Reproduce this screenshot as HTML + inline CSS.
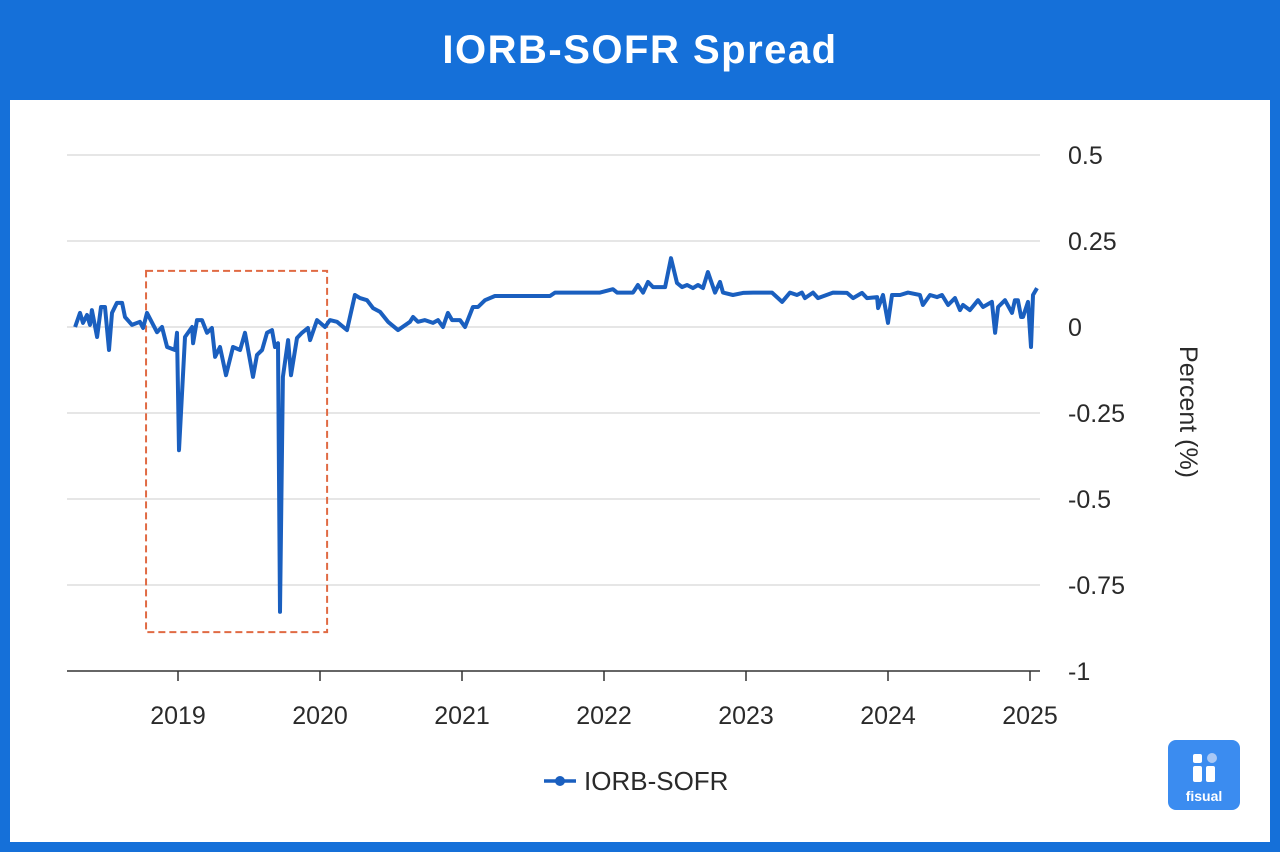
<!DOCTYPE html>
<html><head><meta charset="utf-8">
<style>
html,body{margin:0;padding:0;width:1280px;height:852px;overflow:hidden;background:#1570d9;font-family:"Liberation Sans",sans-serif}
#title{position:absolute;left:0;top:0;width:1280px;height:100px;line-height:100px;text-align:center;color:#fff;font-size:40px;font-weight:bold;letter-spacing:1.5px}
#panel{position:absolute;left:10px;top:100px;width:1260px;height:742px;background:#fff}
svg{position:absolute;left:0;top:0}
</style></head><body>
<div id="title">IORB-SOFR Spread</div>
<div id="panel"></div>
<svg id="chart" width="1280" height="852"></svg>
<script>
const yTicks=[0.5,0.25,0,-0.25,-0.5,-0.75,-1];
const yTickLabels=["0.5","0.25","0","-0.25","-0.5","-0.75","-1"];
const xTicks=[2019,2020,2021,2022,2023,2024,2025];
const xTickLabels=["2019","2020","2021","2022","2023","2024","2025"];
const dates=[2018.275,2018.31,2018.331,2018.359,2018.38,2018.394,2018.43,2018.458,2018.486,2018.514,2018.535,2018.57,2018.606,2018.627,2018.676,2018.732,2018.754,2018.782,2018.852,2018.887,2018.923,2018.979,2018.993,2019.007,2019.049,2019.099,2019.106,2019.134,2019.169,2019.204,2019.239,2019.261,2019.296,2019.338,2019.387,2019.437,2019.472,2019.528,2019.556,2019.592,2019.627,2019.662,2019.683,2019.704,2019.718,2019.739,2019.775,2019.796,2019.838,2019.873,2019.915,2019.93,2019.979,2020.035,2020.07,2020.12,2020.19,2020.246,2020.282,2020.331,2020.373,2020.423,2020.479,2020.549,2020.634,2020.655,2020.69,2020.739,2020.796,2020.831,2020.866,2020.901,2020.93,2020.986,2021.021,2021.077,2021.113,2021.162,2021.232,2021.62,2021.655,2021.972,2022.063,2022.092,2022.204,2022.239,2022.275,2022.31,2022.345,2022.394,2022.43,2022.472,2022.514,2022.549,2022.585,2022.627,2022.662,2022.697,2022.732,2022.782,2022.817,2022.838,2022.908,2022.979,2023.049,2023.183,2023.254,2023.31,2023.359,2023.394,2023.415,2023.472,2023.507,2023.613,2023.711,2023.754,2023.817,2023.852,2023.923,2023.93,2023.965,2024.0,2024.028,2024.085,2024.141,2024.225,2024.246,2024.296,2024.345,2024.38,2024.423,2024.472,2024.507,2024.528,2024.577,2024.634,2024.669,2024.732,2024.754,2024.775,2024.824,2024.873,2024.894,2024.915,2024.937,2024.951,2024.986,2025.007,2025.021,2025.049];
const spread=[0,0.041,0.012,0.035,0.006,0.049,-0.029,0.058,0.058,-0.067,0.041,0.07,0.07,0.029,0.006,0.015,-0.003,0.041,-0.015,0,-0.058,-0.067,-0.017,-0.358,-0.029,0,-0.047,0.02,0.02,-0.017,-0.003,-0.087,-0.058,-0.14,-0.058,-0.067,-0.017,-0.145,-0.081,-0.067,-0.017,-0.009,-0.058,-0.047,-0.828,-0.145,-0.038,-0.14,-0.032,-0.017,-0.003,-0.038,0.02,0,0.02,0.015,-0.009,0.093,0.084,0.078,0.055,0.044,0.015,-0.009,0.015,0.029,0.015,0.02,0.012,0.02,0,0.041,0.02,0.02,0,0.058,0.058,0.078,0.09,0.09,0.1,0.1,0.11,0.1,0.1,0.122,0.1,0.131,0.116,0.116,0.116,0.2,0.128,0.116,0.122,0.113,0.122,0.113,0.16,0.1,0.131,0.1,0.093,0.099,0.1,0.1,0.073,0.1,0.093,0.1,0.084,0.1,0.084,0.1,0.099,0.084,0.099,0.084,0.087,0.055,0.093,0.012,0.093,0.093,0.1,0.093,0.064,0.093,0.087,0.093,0.064,0.084,0.049,0.064,0.049,0.078,0.058,0.073,-0.017,0.058,0.078,0.041,0.078,0.078,0.029,0.029,0.073,-0.058,0.093,0.113];
const box=[2018.775,2020.05,0.163,-0.887];
const NS="http://www.w3.org/2000/svg";
const svg=document.getElementById('chart');
const X0=67,X1=1040;
function xs(t){return 178+(t-2019)*142;}
function ys(v){return 327-v*344;}
function mk(tag,attrs,parent){const e=document.createElementNS(NS,tag);for(const k in attrs)e.setAttribute(k,attrs[k]);(parent||svg).appendChild(e);return e;}
yTicks.forEach((v,i)=>{
  const g=mk('line',{x1:X0,x2:X1,y1:ys(v),y2:ys(v),stroke:v===-1?'#333':'#d6d6d6','stroke-width':v===-1?1.5:1.2});
  
  
  const t=mk('text',{x:1068,y:ys(v)+9,'font-size':25,fill:'#2a2a2a'});
  t.textContent=yTickLabels[i];
  
  
});
xTicks.forEach((v,i)=>{
  const l=mk('line',{x1:xs(v),x2:xs(v),y1:671,y2:681,stroke:'#333','stroke-width':1.5});
  
  
  const t=mk('text',{x:xs(v),y:724,'font-size':25,fill:'#2a2a2a','text-anchor':'middle'});
  t.textContent=xTickLabels[i];
  
  
});
const at=mk('text',{x:0,y:0,'font-size':25,fill:'#2a2a2a','text-anchor':'middle',transform:'translate(1180,412) rotate(90)'});
at.textContent='Percent (%)';


const b=mk('rect',{x:xs(box[0]),y:ys(box[2]),width:xs(box[1])-xs(box[0]),height:ys(box[3])-ys(box[2]),fill:'none',stroke:'#e06a43','stroke-width':2,'stroke-dasharray':'7,4'});


const p=mk('path',{d:dates.map((t,i)=>(i?'L':'M')+xs(t).toFixed(1)+' '+ys(spread[i]).toFixed(1)).join(' '),fill:'none',stroke:'#1a5fbf','stroke-width':4,'stroke-linejoin':'round'});


const lg=mk('g',{});


mk('line',{x1:544,x2:576,y1:781,y2:781,stroke:'#1a5fbf','stroke-width':3.5},lg);
mk('circle',{cx:560,cy:781,r:5,fill:'#1a5fbf'},lg);
const lt=mk('text',{x:584,y:790,'font-size':26,fill:'#2a2a2a'},lg);
lt.textContent='IORB-SOFR';
const logo=mk('g',{});


mk('rect',{x:1168,y:740,width:72,height:70,rx:8,fill:'#3b8cf0'},logo);
mk('rect',{x:1193,y:754,width:9,height:9,rx:2,fill:'#fff'},logo);
mk('circle',{cx:1212,cy:758,r:5,fill:'#a9c8f5'},logo);
mk('rect',{x:1193,y:766,width:9,height:16,rx:2,fill:'#fff'},logo);
mk('rect',{x:1206,y:766,width:9,height:16,rx:2,fill:'#fff'},logo);
const ft=mk('text',{x:1204,y:801,'font-size':14,fill:'#fff','text-anchor':'middle','font-weight':'bold'},logo);
ft.textContent='fisual';
</script>
</body></html>
